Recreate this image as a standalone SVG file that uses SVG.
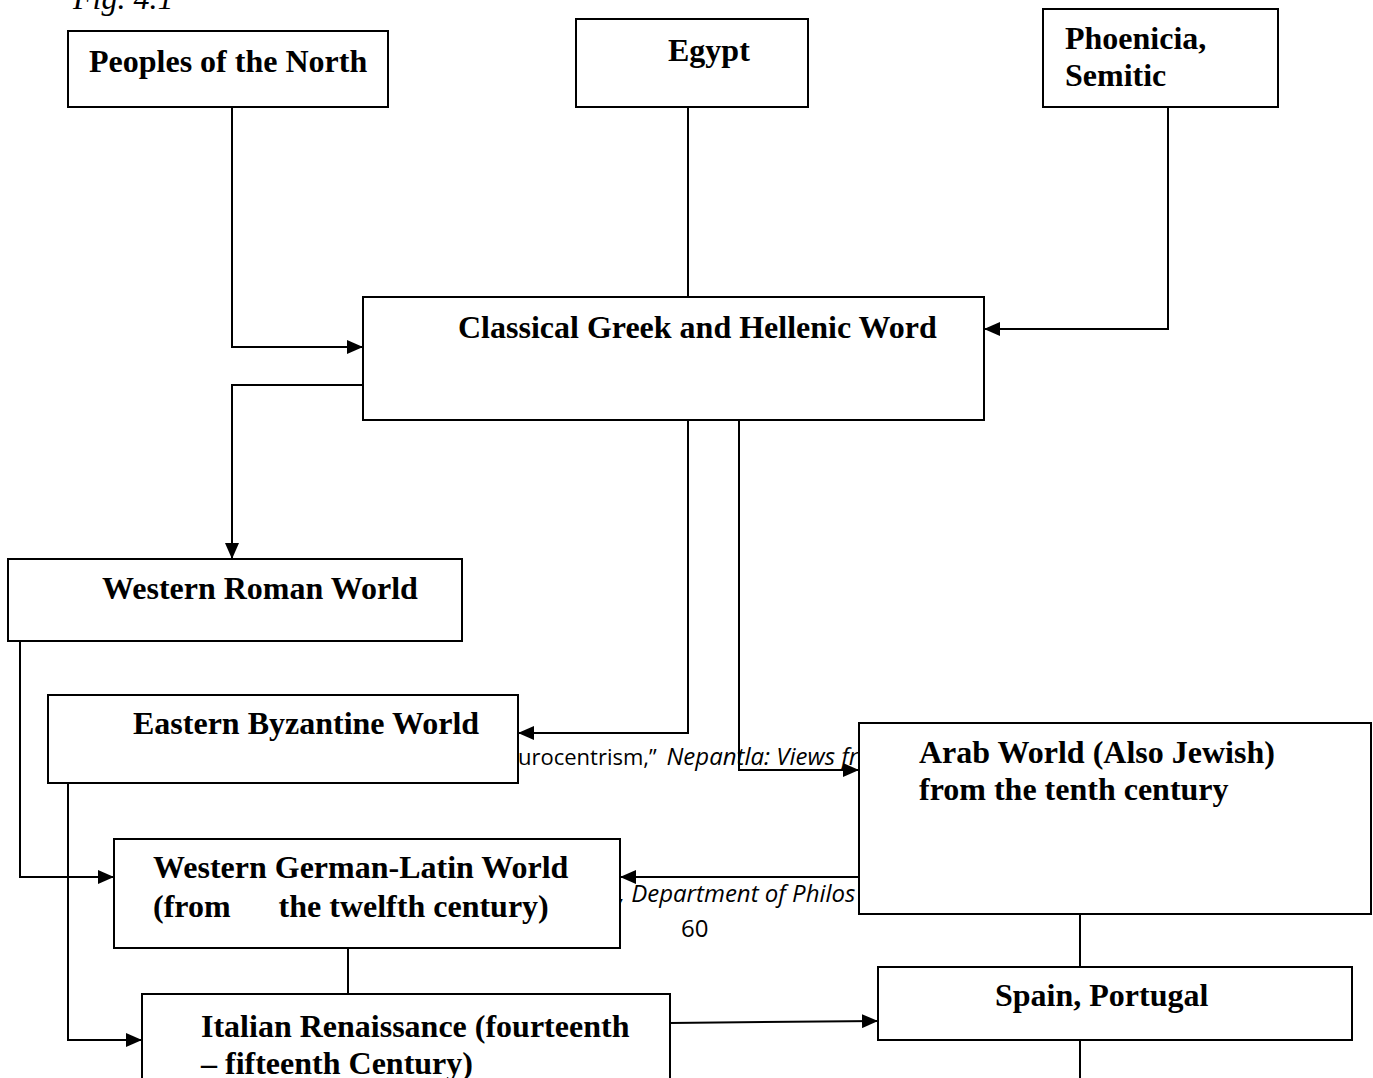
<svg xmlns="http://www.w3.org/2000/svg" width="1373" height="1078" viewBox="0 0 1373 1078">
<style>
.box{fill:#fff;stroke:#000;stroke-width:2}
.lbl{font-family:"Liberation Serif","Times New Roman",serif;font-weight:bold;font-size:32px;fill:#000}
.con{fill:none;stroke:#000;stroke-width:2}
.note{font-family:"Open Sans","Noto Sans",sans-serif;font-size:22px;fill:#000}
.it{font-style:italic;font-size:24px}
</style>
<defs>
<marker id="ah" markerUnits="userSpaceOnUse" markerWidth="16" markerHeight="14" refX="16" refY="7" orient="auto">
<path d="M0,0 L16,7 L0,14 z" fill="#000"/>
</marker>
</defs>
<rect width="1373" height="1078" fill="#fff"/>
<text x="73" y="9" style="font-family:'Liberation Serif','Times New Roman',serif;font-style:italic;font-size:32px">Fig. 4.1</text>
<g id="footnotes">
<text class="note" x="518" y="765">urocentrism,” <tspan class="it" dx="4">Nepantla: Views fr</tspan></text>
<text class="note it" x="619" y="902">, Department of Philos</text>
<text class="note" x="681" y="937" style="font-size:24px">60</text>
</g>
<g id="connectors">
<path class="con" d="M232,107 V347 H363" marker-end="url(#ah)"/>
<path class="con" d="M688,107 V297"/>
<path class="con" d="M1168,107 V329 H984" marker-end="url(#ah)"/>
<path class="con" d="M363,385 H232 V559" marker-end="url(#ah)"/>
<path class="con" d="M688,420 V733 H518" marker-end="url(#ah)"/>
<path class="con" d="M739,420 V770 H859" marker-end="url(#ah)"/>
<path class="con" d="M20,641 V877 H114" marker-end="url(#ah)"/>
<path class="con" d="M68,783 V1040 H142" marker-end="url(#ah)"/>
<path class="con" d="M859,877 H620" marker-end="url(#ah)"/>
<path class="con" d="M1080,914 V967"/>
<path class="con" d="M348,948 V994"/>
<path class="con" d="M670,1023 L878,1021" marker-end="url(#ah)"/>
<path class="con" d="M1080,1040 V1078"/>
</g>
<g id="peoples">
<rect class="box" x="68" y="31" width="320" height="76"/>
<text class="lbl" x="89" y="72">Peoples of the North</text>
</g>
<g id="egypt">
<rect class="box" x="576" y="19" width="232" height="88"/>
<text class="lbl" x="668" y="61">Egypt</text>
</g>
<g id="phoenicia">
<rect class="box" x="1043" y="9" width="235" height="98"/>
<text class="lbl" x="1065" y="49">Phoenicia,</text>
<text class="lbl" x="1065" y="86">Semitic</text>
</g>
<g id="classical">
<rect class="box" x="363" y="297" width="621" height="123"/>
<text class="lbl" x="458" y="338">Classical Greek and Hellenic Word</text>
</g>
<g id="western-roman">
<rect class="box" x="8" y="559" width="454" height="82"/>
<text class="lbl" x="102" y="599">Western Roman World</text>
</g>
<g id="byzantine">
<rect class="box" x="48" y="695" width="470" height="88"/>
<text class="lbl" x="133" y="734">Eastern Byzantine World</text>
</g>
<g id="arab">
<rect class="box" x="859" y="723" width="512" height="191"/>
<text class="lbl" x="919" y="763">Arab World (Also Jewish)</text>
<text class="lbl" x="919" y="800">from the tenth century</text>
</g>
<g id="german-latin">
<rect class="box" x="114" y="839" width="506" height="109"/>
<text class="lbl" x="153" y="878">Western German-Latin World</text>
<text class="lbl" x="153" y="917" xml:space="preserve">(from      the twelfth century)</text>
</g>
<g id="spain">
<rect class="box" x="878" y="967" width="474" height="73"/>
<text class="lbl" x="995" y="1006">Spain, Portugal</text>
</g>
<g id="italian">
<rect class="box" x="142" y="994" width="528" height="100"/>
<text class="lbl" x="201" y="1037">Italian Renaissance (fourteenth</text>
<text class="lbl" x="201" y="1074">– fifteenth Century)</text>
</g>
</svg>
